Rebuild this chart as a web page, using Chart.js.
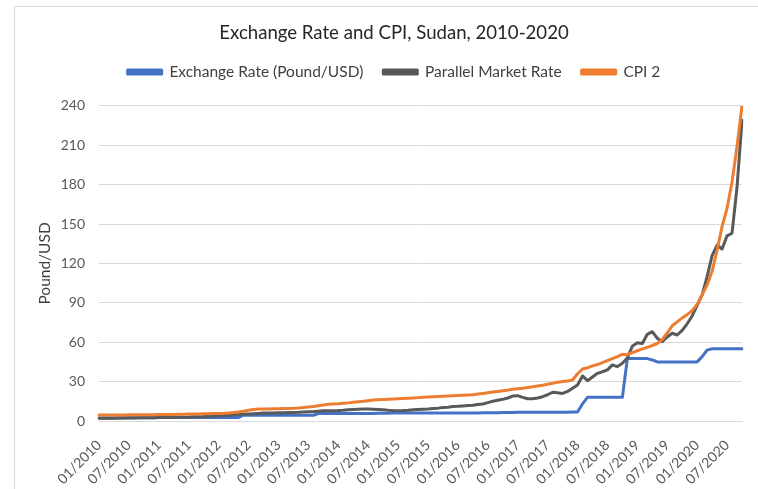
<!DOCTYPE html>
<html>
<head>
<meta charset="utf-8">
<script src="https://cdn.jsdelivr.net/npm/chart.js@4.4.1/dist/chart.umd.min.js"></script>
<style>
  html, body { margin: 0; padding: 0; background: #ffffff; }
  #wrap { position: relative; width: 758px; height: 489px; overflow: hidden; }
  #frame { position: absolute; left: 14px; top: 6px; width: 800px; height: 600px;
           border-left: 1px solid #d9d9d9; border-top: 1px solid #d9d9d9; }
  #c { position: absolute; left: 0; top: 0; }
</style>
</head>
<body>
<div id="wrap">
  <div id="frame"></div>
  <canvas id="c" width="758" height="489"></canvas>
</div>
<script>
// ---- data (monthly, 01/2010 .. 10/2020) ----
const years = [2010, 2011, 2012, 2013, 2014, 2015, 2016, 2017, 2018, 2019, 2020];
const lastMonth2020 = 10;
const tickLabels = ['01/2010','07/2010','01/2011','07/2011','01/2012','07/2012','01/2013','07/2013',
  '01/2014','07/2014','01/2015','07/2015','01/2016','07/2016','01/2017','07/2017','01/2018','07/2018',
  '01/2019','07/2019','01/2020','07/2020'];

const exchangeRate = [
  2.3,2.3,2.3,2.3,2.3,2.3,2.4,2.4,2.4,2.4,2.5,2.5,
  2.6,2.6,2.7,2.7,2.7,2.7,2.7,2.7,2.7,2.7,2.7,2.7,
  2.7,2.7,2.7,2.7,2.7,4.4,4.4,4.4,4.4,4.4,4.4,4.4,
  4.4,4.4,4.4,4.4,4.4,4.4,4.4,4.4,5.7,5.7,5.7,5.7,
  5.7,5.7,5.7,5.7,5.7,5.7,5.8,5.8,5.9,5.9,5.9,6.0,
  6.0,6.0,6.0,6.0,6.0,6.0,6.1,6.1,6.1,6.1,6.1,6.1,
  6.1,6.1,6.1,6.1,6.1,6.2,6.2,6.3,6.3,6.4,6.5,6.5,
  6.6,6.6,6.7,6.7,6.7,6.7,6.7,6.7,6.7,6.7,6.7,6.8,
  6.9,13,18,18,18,18,18,18,18,18,47.5,47.5,
  47.5,47.5,47.5,46.5,45,45,45,45,45,45,45,45,
  45,49,54,55,55,55,55,55,55,55
];

const parallelRate = [
  2.0,2.0,2.1,2.1,2.2,2.2,2.3,2.3,2.4,2.4,2.5,2.5,
  2.6,2.7,2.7,2.8,2.8,2.9,3.0,3.2,3.3,3.4,3.6,3.8,
  4.0,4.2,4.5,4.8,5.0,5.2,5.4,5.6,5.8,6.0,6.0,6.0,
  6.2,6.3,6.4,6.5,6.6,6.8,7.0,7.2,7.5,7.8,7.9,7.9,
  8.0,8.2,8.5,8.8,9.0,9.1,9.2,9.0,8.8,8.5,8.2,8.0,
  7.9,8.0,8.2,8.5,8.8,9.0,9.2,9.5,9.8,10.2,10.5,11.0,
  11.2,11.5,11.8,12.0,12.5,13.0,14.0,15.0,15.8,16.5,17.5,19.0,
  19.3,18.0,17.0,17.0,17.5,18.5,20.0,21.9,21.5,21.0,22.5,25.0,
  27.4,34.3,30.7,33.5,36.3,37.5,38.9,42.7,41.4,44,48,57,
  59.5,59,66,68,63,60.4,64,66.8,65.5,69,74,80,
  88,96,110,126,134,131,141,143,178,229
];

const cpi2 = [
  4.5,4.5,4.5,4.6,4.6,4.6,4.7,4.7,4.7,4.8,4.8,4.8,
  4.9,4.9,5.0,5.0,5.1,5.2,5.3,5.4,5.4,5.5,5.6,5.7,
  5.8,5.9,6.1,6.4,6.8,7.5,8.2,8.8,9.1,9.2,9.2,9.3,
  9.4,9.5,9.6,9.7,9.9,10.2,10.6,11.0,11.6,12.2,12.7,13.0,
  13.2,13.5,13.8,14.2,14.6,15.0,15.5,16.0,16.2,16.4,16.6,16.8,
  17.0,17.2,17.4,17.6,17.8,18.0,18.2,18.4,18.6,18.8,19.0,19.2,
  19.4,19.6,19.8,20.0,20.5,21.0,21.5,22.0,22.5,23.0,23.5,24.1,
  24.6,25.0,25.5,26.0,26.6,27.2,28.0,28.8,29.5,30.0,30.5,31.2,
  36,39.6,40.5,42,43,44.5,46,47.5,49,50.8,50.5,52,
  53.5,54.9,56,57.5,59,62,67,72.5,75.5,78.5,81,84,
  89,96,103.6,114,130,148,162,182,209,240
];

// ---- categories ----
const categories = [];
years.forEach(y => {
  const n = (y === 2020) ? lastMonth2020 : 12;
  for (let m = 1; m <= n; m++) categories.push((m < 10 ? '0' : '') + m + '/' + y);
});

const FONT = 'Lato, "Open Sans", "Liberation Sans", sans-serif';

// empty layout box that leaves room between the legend and the plot area
const legendSpacer = {
  id: 'legendSpacer',
  beforeInit(chart) {
    const box = {
      position: 'top', weight: 500, fullSize: true, options: {},
      top: 0, left: 0, right: 0, bottom: 0, width: 0, height: 0,
      update(maxWidth) { this.width = maxWidth; this.height = 16; },
      isHorizontal() { return true; },
      getPadding() { return { left: 0, top: 0, right: 0, bottom: 0 }; },
      draw() {}
    };
    Chart.layouts.addBox(chart, box);
  }
};

new Chart(document.getElementById('c'), {
  type: 'line',
  data: {
    labels: categories,
    datasets: [
      { label: 'Exchange Rate (Pound/USD)', data: exchangeRate, borderColor: '#4472C4', backgroundColor: '#4472C4', order: 3 },
      { label: 'Parallel Market Rate', data: parallelRate, borderColor: '#595959', backgroundColor: '#595959', order: 2 },
      { label: 'CPI 2', data: cpi2, borderColor: '#ED7D31', backgroundColor: '#ED7D31', order: 1 }
    ]
  },
  plugins: [legendSpacer],
  options: {
    responsive: false,
    animation: false,
    devicePixelRatio: 1,
    layout: { padding: { left: 30, right: 0, top: 0, bottom: 0 } },
    elements: {
      line: { borderWidth: 3, tension: 0, borderJoinStyle: 'round', borderCapStyle: 'round' },
      point: { radius: 0, hoverRadius: 0 }
    },
    plugins: {
      title: {
        display: true,
        text: 'Exchange Rate and CPI, Sudan, 2010-2020',
        color: '#262626',
        font: { family: FONT, size: 18.6, weight: 'normal' },
        padding: { top: 22, bottom: 0 }
      },
      legend: {
        display: true,
        position: 'top',
        labels: {
          color: '#404040',
          font: { family: FONT, size: 15.5 },
          boxWidth: 34,
          boxHeight: 4,
          padding: 20,
          sort: (a, b) => a.datasetIndex - b.datasetIndex
        }
      },
      tooltip: { enabled: false }
    },
    scales: {
      x: {
        type: 'category',
        offset: false,
        grid: { display: false, drawTicks: false },
        border: { display: true, color: '#d9d9d9', width: 1 },
        afterFit: (s) => { s.paddingLeft = 0; s.paddingRight = 16; s.height = 68; },
        ticks: {
          autoSkip: false,
          maxRotation: 45,
          minRotation: 45,
          padding: 16,
          color: '#595959',
          font: { family: FONT, size: 14 },
          callback: function (value, index) {
            const lab = categories[index];
            return tickLabels.includes(lab) ? lab : '';
          }
        }
      },
      y: {
        min: 0,
        max: 240,
        grid: { color: '#d9d9d9', lineWidth: 1, drawTicks: false },
        border: { display: false },
        afterFit: (s) => { s.width = 69; },
        ticks: {
          stepSize: 30,
          padding: 14,
          color: '#595959',
          font: { family: FONT, size: 14 }
        },
        title: {
          display: true,
          text: 'Pound/USD',
          color: '#404040',
          font: { family: FONT, size: 15.5 },
          padding: 5.7
        }
      }
    }
  }
});
</script>
</body>
</html>
